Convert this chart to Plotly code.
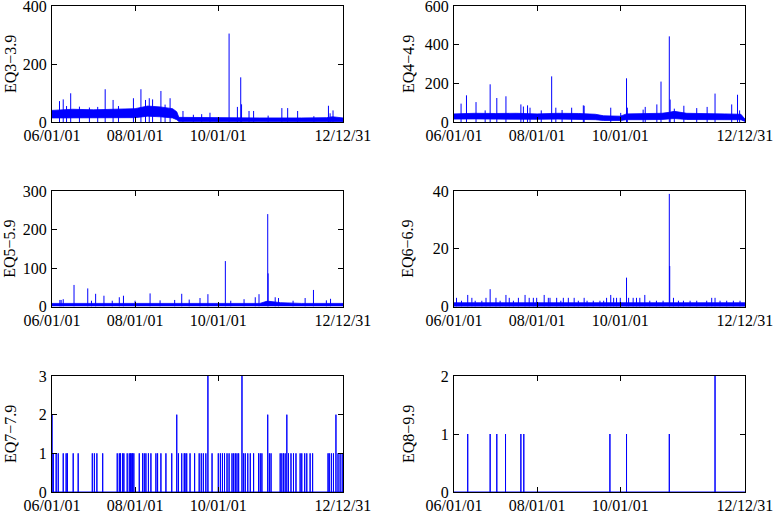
from datetime import datetime, timedelta

import plotly.graph_objects as go
from plotly.subplots import make_subplots

BLUE = "#0000ff"
FONT = "Liberation Serif"

# dates are decimal years
START, END = 2006.0, 2012.999

# EQ3-3.9 : noise band + spikes
eq3_band_t = [2006.0, 2006.5, 2007.0, 2007.5, 2008.0, 2008.3, 2008.6, 2008.9, 2009.0, 2009.05, 2010.0, 2011.0, 2012.0, 2012.6, 2012.75, 2012.999]
eq3_band_hi = [40, 44, 42, 44, 46, 55, 52, 46, 35, 16, 14, 14, 14, 15, 18, 14]
eq3_band_lo = [14, 15, 14, 15, 15, 20, 18, 14, 8, 2, 1, 1, 1, 1, 2, 1]
eq3_spike_t = [2006.18, 2006.27, 2006.35, 2006.45, 2006.66, 2006.9, 2007.1, 2007.28, 2007.47, 2007.6, 2007.96, 2008.14,
               2008.25, 2008.34, 2008.42, 2008.62, 2008.72, 2008.84, 2009.15, 2009.4, 2009.6, 2009.8, 2010.26, 2010.46,
               2010.54, 2010.56, 2010.74, 2010.85, 2011.2, 2011.53, 2011.67, 2011.91, 2012.3, 2012.65, 2012.69, 2012.76]
eq3_spike_v = [72, 78, 55, 99, 53, 50, 52, 113, 76, 55, 82, 113,
               76, 82, 78, 107, 60, 82, 38, 25, 27, 32, 305, 52,
               154, 61, 38, 38, 22, 48, 48, 38, 20, 56, 30, 40]

# EQ4-4.9
eq4_band_t = [2006.0, 2006.5, 2007.0, 2007.5, 2008.0, 2008.5, 2009.0, 2009.4, 2009.6, 2010.0, 2010.15, 2010.5, 2011.0,
              2011.18, 2011.3, 2011.6, 2012.0, 2012.5, 2012.9, 2012.999]
eq4_band_hi = [42, 45, 44, 45, 42, 45, 44, 40, 32, 30, 42, 42, 45, 50, 55, 45, 42, 42, 40, 15]
eq4_band_lo = [15, 16, 15, 16, 14, 15, 14, 12, 8, 8, 12, 12, 13, 16, 18, 13, 12, 12, 12, 3]
eq4_spike_t = [2006.17, 2006.3, 2006.53, 2006.75, 2006.87, 2007.03, 2007.25, 2007.61, 2007.67, 2007.77, 2007.83, 2008.1,
               2008.35, 2008.45, 2008.6, 2008.83, 2009.11, 2009.13, 2009.77, 2010.01, 2010.15, 2010.17, 2010.55, 2010.6,
               2010.88, 2010.98, 2011.18, 2011.2, 2011.3, 2011.53, 2011.84, 2012.09, 2012.28, 2012.68, 2012.82, 2012.87]
eq4_spike_v = [95, 138, 103, 60, 195, 124, 133, 91, 80, 86, 74, 60,
               236, 74, 62, 74, 86, 84, 74, 47, 226, 74, 64, 78,
               91, 209, 443, 116, 69, 84, 72, 78, 147, 91, 141, 60]

# EQ5-5.9
eq5_band_t = [2006.0, 2007.0, 2008.0, 2009.0, 2010.0, 2011.0, 2011.18, 2011.5, 2012.0, 2012.999]
eq5_band_hi = [8, 8, 8, 8, 8, 8, 14, 10, 8, 8]
eq5_band_lo = [1, 1, 1, 1, 1, 1, 2, 1, 1, 1]
eq5_spike_t = [2006.19, 2006.22, 2006.27, 2006.53, 2006.86, 2006.95, 2007.05, 2007.25, 2007.45, 2007.62, 2007.72, 2008.0,
               2008.36, 2008.6, 2008.95, 2009.12, 2009.3, 2009.56, 2009.75, 2010.17, 2010.3, 2010.62, 2010.89, 2010.98,
               2011.19, 2011.2, 2011.37, 2011.45, 2011.8, 2012.09, 2012.29, 2012.6, 2012.7]
eq5_spike_v = [17, 17, 19, 56, 47, 15, 33, 28, 15, 24, 28, 15,
               34, 16, 17, 33, 18, 22, 32, 118, 15, 19, 24, 32,
               240, 86, 24, 22, 15, 22, 43, 16, 20]

# EQ6-6.9
eq6_band_t = [2006.0, 2012.999]
eq6_band_hi = [1.3, 1.3]
eq6_band_lo = [0, 0]
eq6_spike_t = [2006.06, 2006.18, 2006.33, 2006.43, 2006.51, 2006.67, 2006.77, 2006.87, 2007.01, 2007.11, 2007.25, 2007.33,
               2007.43, 2007.55, 2007.71, 2007.81, 2007.91, 2007.99, 2008.17, 2008.27, 2008.31, 2008.47, 2008.57, 2008.63,
               2008.75, 2008.89, 2008.99, 2009.13, 2009.2, 2009.35, 2009.51, 2009.6, 2009.67, 2009.77, 2009.84, 2009.91,
               2010.0, 2010.15, 2010.2, 2010.31, 2010.39, 2010.47, 2010.59, 2010.71, 2010.87, 2011.03, 2011.18, 2011.19,
               2011.28, 2011.4, 2011.52, 2011.68, 2011.84, 2012.08, 2012.2, 2012.28, 2012.4, 2012.56, 2012.72, 2012.88]
eq6_spike_v = [3, 2, 4, 3, 2, 2, 3, 6, 3, 2, 4, 3,
               2, 3, 4, 3, 3, 3, 4, 3, 3, 3, 2, 3,
               3, 3, 2, 3, 2, 2, 2, 2, 3, 4, 3, 3,
               3, 10, 3, 3, 3, 3, 4, 2, 2, 2, 39, 14,
               3, 2, 2, 2, 2, 2, 3, 3, 2, 2, 2, 2]

# EQ7-7.9 : single events
eq7_t = [2006.0, 2006.03, 2006.1, 2006.15, 2006.27, 2006.34, 2006.37, 2006.51, 2006.63, 2006.97, 2007.02, 2007.08,
         2007.22, 2007.57, 2007.62, 2007.65, 2007.7, 2007.73, 2007.81, 2007.86, 2007.89, 2007.92, 2007.94, 2007.97,
         2008.1, 2008.18, 2008.22, 2008.26, 2008.32, 2008.38, 2008.5, 2008.54, 2008.62, 2008.74, 2008.88, 2009.0,
         2009.04, 2009.12, 2009.18, 2009.2, 2009.24, 2009.32, 2009.43, 2009.54, 2009.59, 2009.64, 2009.7, 2009.75,
         2009.85, 2010.0, 2010.05, 2010.1, 2010.15, 2010.21, 2010.26, 2010.33, 2010.37, 2010.41, 2010.45, 2010.49,
         2010.57, 2010.61, 2010.65, 2010.71, 2010.77, 2010.85, 2010.97, 2011.01, 2011.05, 2011.19, 2011.23, 2011.27,
         2011.49, 2011.53, 2011.57, 2011.61, 2011.65, 2011.69, 2011.75, 2011.81, 2011.87, 2011.97, 2012.01, 2012.08,
         2012.13, 2012.21, 2012.27, 2012.64, 2012.67, 2012.72, 2012.77, 2012.83, 2012.88, 2012.93, 2012.98]
eq7_v = [2, 1, 1, 1, 1, 1, 1, 1, 1, 1, 1, 1,
         1, 1, 1, 1, 1, 1, 1, 1, 1, 1, 1, 1,
         1, 1, 1, 1, 1, 1, 1, 1, 1, 1, 1, 2,
         1, 1, 1, 1, 1, 1, 1, 1, 1, 1, 1, 3,
         1, 1, 1, 1, 1, 1, 1, 1, 1, 1, 1, 1,
         3, 1, 1, 1, 1, 1, 1, 1, 1, 2, 1, 1,
         1, 1, 1, 1, 2, 1, 1, 1, 1, 1, 1, 1,
         1, 1, 1, 1, 1, 1, 1, 2, 1, 1, 1]

# EQ8-9.9
eq8_t = [2006.33, 2006.87, 2007.03, 2007.24, 2007.61, 2007.68, 2009.75, 2010.15, 2011.18, 2012.28]
eq8_v = [1, 1, 1, 1, 1, 1, 1, 1, 1, 2]

x_tickvals = ["2006-01-01", "2008-01-01", "2010-01-01", "2012-12-31"]
x_ticktext = ["06/01/01", "08/01/01", "10/01/01", "12/12/31"]


def to_date(y):
    year = int(y)
    start = datetime(year, 1, 1)
    length = (datetime(year + 1, 1, 1) - start).days
    return start + timedelta(days=(y - year) * length)


def band_trace(ts, hi, lo):
    xs = [to_date(t) for t in ts]
    return go.Scatter(x=xs + xs[::-1], y=list(hi) + list(lo)[::-1], fill="toself", fillcolor=BLUE,
                      mode="lines", line={"color": BLUE, "width": 0.8}, hoverinfo="skip")


def spike_trace(ts, vs):
    xs, ys = [], []
    for t, v in zip(ts, vs):
        d = to_date(t)
        xs += [d, d, None]
        ys += [0, v, None]
    return go.Scatter(x=xs, y=ys, mode="lines", line={"color": BLUE, "width": 1})


def event_trace(ts, vs):
    xs, ys = [to_date(START)], [0]
    for t, v in zip(ts, vs):
        d = to_date(t)
        xs += [d, d, d]
        ys += [0, v, 0]
    xs.append(to_date(END))
    ys.append(0)
    return go.Scatter(x=xs, y=ys, mode="lines", line={"color": BLUE, "width": 1})


fig = make_subplots(rows=3, cols=2)

panels = [
    (1, 1, "EQ3−3.9", [0, 400], [0, 200, 400], [band_trace(eq3_band_t, eq3_band_hi, eq3_band_lo), spike_trace(eq3_spike_t, eq3_spike_v)]),
    (1, 2, "EQ4−4.9", [0, 600], [0, 200, 400, 600], [band_trace(eq4_band_t, eq4_band_hi, eq4_band_lo), spike_trace(eq4_spike_t, eq4_spike_v)]),
    (2, 1, "EQ5−5.9", [0, 300], [0, 100, 200, 300], [band_trace(eq5_band_t, eq5_band_hi, eq5_band_lo), spike_trace(eq5_spike_t, eq5_spike_v)]),
    (2, 2, "EQ6−6.9", [0, 40], [0, 20, 40], [band_trace(eq6_band_t, eq6_band_hi, eq6_band_lo), spike_trace(eq6_spike_t, eq6_spike_v)]),
    (3, 1, "EQ7−7.9", [0, 3], [0, 1, 2, 3], [event_trace(eq7_t, eq7_v)]),
    (3, 2, "EQ8−9.9", [0, 2], [0, 1, 2], [event_trace(eq8_t, eq8_v)]),
]

W, H = 774, 512
x_dom = {1: [52 / W, 343 / W], 2: [454 / W, 745 / W]}
y_dom = {1: [1 - 122 / H, 1 - 6 / H], 2: [1 - 306.5 / H, 1 - 191 / H], 3: [1 - 492 / H, 1 - 376 / H]}
title_x = {1: 10 / W, 2: 408 / W}

axis_style = dict(showline=True, linecolor="black", linewidth=1, mirror="ticks", ticks="inside", ticklen=5,
                  tickcolor="black", showgrid=False, zeroline=False, automargin=False, ticklabeloverflow="allow",
                  tickfont={"family": FONT, "size": 16, "color": "black"})

for row, col, label, yrange, yticks, traces in panels:
    for tr in traces:
        fig.add_trace(tr, row=row, col=col)
    fig.update_xaxes(type="date", range=[to_date(START) - timedelta(hours=2), to_date(END) + timedelta(hours=2)],
                     tickvals=x_tickvals, ticktext=x_ticktext, domain=x_dom[col], ticklabelstandoff=-1,
                     row=row, col=col, **axis_style)
    fig.update_yaxes(range=yrange, tickvals=yticks, domain=y_dom[row], ticklabelstandoff=1,
                     row=row, col=col, **axis_style)
    fig.add_annotation(text=label, xref="paper", yref="paper", x=title_x[col], y=sum(y_dom[row]) / 2,
                       xanchor="center", yanchor="middle", textangle=-90, showarrow=False,
                       font={"family": FONT, "size": 16, "color": "black"})

fig.update_layout(width=W, height=H, margin={"l": 0, "r": 0, "t": 0, "b": 0, "autoexpand": False}, showlegend=False,
                  paper_bgcolor="white", plot_bgcolor="white", font={"family": FONT})

fig.write_html("out.html", config={"displayModeBar": False}, post_script="document.body.style.margin='0';")
